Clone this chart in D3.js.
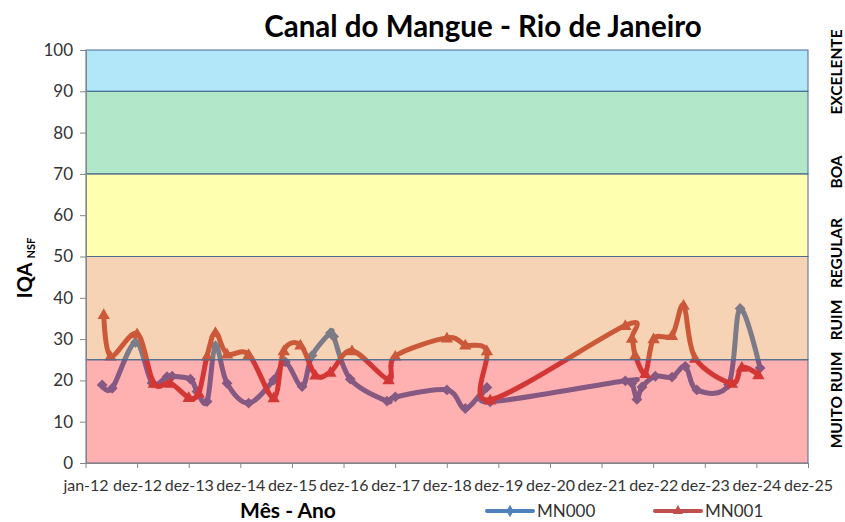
<!DOCTYPE html>
<html>
<head>
<meta charset="utf-8">
<script src="https://cdn.jsdelivr.net/npm/d3@7"></script>
<style>
  body { margin: 0; background: #fff; }
  svg { display: block; font-family: Lato, "Open Sans", sans-serif; }
</style>
</head>
<body>
<div id="chart"></div>
<script>

// series MN000 (sample dates + IQA values)
const mn000Dates = [
    "2012-04-28", "2012-07-08", "2012-12-19", "2013-04-16", "2013-07-31", "2013-09-05",
    "2014-01-12", "2014-02-28", "2014-05-10", "2014-07-08", "2014-09-28", "2015-02-28",
    "2015-08-24", "2015-11-15", "2016-03-12", "2016-05-21", "2016-09-28", "2016-10-21",
    "2017-02-16", "2017-11-02", "2017-12-31", "2018-12-31", "2019-05-10", "2019-10-10",
    "2019-11-02", "2022-06-15", "2022-08-01", "2022-09-05", "2022-10-11", "2023-01-13",
    "2023-05-11", "2023-08-13", "2023-11-03", "2024-06-14", "2024-09-04", "2025-01-23"
];
const mn000Values = [
    18.9, 18.1, 29.2, 19.4, 20.9, 21.0,
    20.3, 17.3, 14.9, 28.4, 19.3, 14.5,
    20.1, 24.5, 18.5, 26.0, 31.5, 30.6,
    20.3, 15.0, 16.0, 17.7, 13.2, 18.3,
    14.8, 19.9, 19.3, 15.4, 18.4, 21.0,
    20.8, 23.4, 17.7, 19.0, 37.4, 23.0
];

// series MN001
const mn001Dates = [
    "2012-05-09", "2012-06-26", "2012-12-31", "2013-04-28", "2013-08-24", "2013-12-31",
    "2014-03-12", "2014-05-10", "2014-07-08", "2014-09-28", "2015-02-28", "2015-08-24",
    "2015-11-03", "2016-02-29", "2016-06-14", "2016-09-28", "2017-02-28", "2017-11-14",
    "2017-12-31", "2018-12-31", "2019-05-10", "2019-10-10", "2019-11-02", "2022-06-15",
    "2022-08-01", "2022-08-24", "2022-11-03", "2023-01-01", "2023-05-11", "2023-08-01",
    "2023-10-22", "2024-07-08", "2024-09-16", "2025-01-11"
];
const mn001Values = [
    36.0, 25.9, 31.3, 19.3, 19.3, 15.9,
    16.9, 25.9, 31.6, 26.4, 26.3, 15.8,
    27.2, 28.6, 21.3, 22.0, 27.2, 20.2,
    25.9, 30.3, 28.6, 27.2, 15.3, 33.3,
    30.2, 26.1, 21.7, 30.1, 30.9, 38.2,
    25.4, 19.3, 23.2, 21.4
];

// quality classes (IQA NSF)
const bandNames = ["MUITO RUIM", "RUIM", "REGULAR", "BOA", "EXCELENTE"];
const bandLimits = [0, 25, 50, 70, 90, 100];

const xTickLabels = ["jan-12", "dez-12", "dez-13", "dez-14", "dez-15", "dez-16", "dez-17",
    "dez-18", "dez-19", "dez-20", "dez-21", "dez-22", "dez-23", "dez-24", "dez-25"];
const yTicks = [0, 10, 20, 30, 40, 50, 60, 70, 80, 90, 100];

const seriesNames = ["MN000", "MN001"];


function buildViz() {
    const W = 845, H = 522;
    const plot = { left: 86, right: 808, top: 50, bottom: 463 };

    const parse = d3.utcParse("%Y-%m-%d");
    const start = Date.UTC(2012, 0, 1);
    // excel date axis: major unit of 365 days starting at 1-jan-2012
    const tickDates = xTickLabels.map((_, i) => d3.utcDay.offset(new Date(start), i * 365));

    const svg = d3.select("#chart").append("svg")
        .attr("width", W)
        .attr("height", H);

    const x = d3.scaleUtc()
        .domain([tickDates[0], tickDates[tickDates.length - 1]])
        .range([plot.left - 0.5, plot.right]);

    const y = d3.scaleLinear()
        .domain([0, 100])
        .range([plot.bottom, plot.top]);

    const series = [
        { name: seriesNames[0], color: "#4f81bd", shape: "diamond",
          data: mn000Dates.map((d, i) => ({ date: parse(d), value: mn000Values[i] })) },
        { name: seriesNames[1], color: "#c0504d", shape: "triangle",
          data: mn001Dates.map((d, i) => ({ date: parse(d), value: mn001Values[i] })) }
    ];

    const diamond = d3.symbol().type(d3.symbolDiamond2 || d3.symbolDiamond).size(75);
    const triangle = d3.symbol().type(d3.symbolTriangle).size(66);

    // LINES (under the transparent bands, like the excel original)
    const line = d3.line()
        .x(d => x(d.date))
        .y(d => y(d.value))
        .curve(d3.curveCardinal.tension(0));

    const lines = svg.append("g");
    series.forEach(s => {
        lines.append("path")
            .datum(s.data)
            .attr("fill", "none")
            .attr("stroke", s.color)
            .attr("stroke-width", 5)
            .attr("stroke-linejoin", "round")
            .attr("d", line);

        lines.selectAll(null)
            .data(s.data)
            .enter()
            .append("path")
            .attr("transform", d => `translate(${x(d.date)},${y(d.value) + (s.shape === "triangle" ? 1 : 0)})`)
            .attr("d", s.shape === "diamond" ? diamond() : triangle())
            .attr("fill", s.color);
    });

    // BANDS
    const bandFill = [
        "rgba(255,0,0,0.31)",
        "rgba(228,108,10,0.30)",
        "rgba(255,255,0,0.31)",
        "rgba(0,176,80,0.30)",
        "rgba(0,176,240,0.30)"
    ];
    const bands = bandNames.map((name, i) => ({ name, lo: bandLimits[i], hi: bandLimits[i + 1] }));

    svg.append("g")
        .selectAll("rect")
        .data(bands)
        .enter()
        .append("rect")
        .attr("x", plot.left)
        .attr("width", plot.right - plot.left)
        .attr("y", d => y(d.hi))
        .attr("height", d => y(d.lo) - y(d.hi))
        .attr("fill", (d, i) => bandFill[i])
        .attr("stroke", "#4d6a92")
        .attr("stroke-width", 1);

    // AXES
    const yAxis = svg.append("g")
        .attr("transform", `translate(${plot.left},0)`)
        .call(d3.axisLeft(y).tickValues(yTicks).tickSize(6).tickPadding(7));
    yAxis.select(".domain").attr("stroke", "#868686");
    yAxis.selectAll(".tick line").attr("stroke", "#868686");
    yAxis.selectAll(".tick text")
        .attr("fill", "#333")
        .style("font-size", "17px")
        .style("font-family", "Lato, sans-serif");

    const xAxis = svg.append("g")
        .attr("transform", `translate(0,${plot.bottom})`)
        .call(d3.axisBottom(x)
            .tickValues(tickDates)
            .tickFormat((d, i) => xTickLabels[i])
            .tickSize(5)
            .tickSizeOuter(0)
            .tickPadding(12));
    xAxis.select(".domain").attr("stroke", "#868686");
    xAxis.selectAll(".tick line").attr("stroke", "#868686");
    xAxis.selectAll(".tick text")
        .attr("fill", "#333")
        .style("font-size", "16px")
        .style("font-family", "Lato, sans-serif");

    // TITLES
    svg.append("text")
        .attr("x", 483)
        .attr("y", 37)
        .attr("text-anchor", "middle")
        .style("font-size", "29.5px")
        .style("font-weight", "bold")
        .attr("fill", "#000")
        .text("Canal do Mangue - Rio de Janeiro");

    const yLabel = svg.append("text")
        .attr("transform", "translate(32,268) rotate(-90)")
        .attr("text-anchor", "middle")
        .style("font-weight", "bold")
        .attr("fill", "#000");
    yLabel.append("tspan").style("font-size", "20px").text("IQA ");
    yLabel.append("tspan").style("font-size", "11px").attr("dy", 3).text("NSF");

    svg.append("text")
        .attr("x", 288)
        .attr("y", 518)
        .attr("text-anchor", "middle")
        .style("font-size", "21px")
        .style("font-weight", "bold")
        .attr("fill", "#000")
        .text("Mês - Ano");

    // class names on the right side
    const classCenters = [400, 320, 253, 172, 72];
    svg.append("g")
        .selectAll("text")
        .data(bands)
        .enter()
        .append("text")
        .attr("transform", (d, i) => `translate(842,${classCenters[i]}) rotate(-90)`)
        .attr("text-anchor", "middle")
        .style("font-size", "15.5px")
        .style("font-weight", "bold")
        .attr("fill", "#000")
        .text(d => d.name);

    // LEGEND
    const legendX = [487, 655];
    const legend = svg.append("g");
    series.forEach((s, i) => {
        const g = legend.append("g").attr("transform", `translate(${legendX[i]},511)`);
        g.append("line")
            .attr("x1", 0).attr("x2", 46)
            .attr("stroke", s.color)
            .attr("stroke-width", 4)
            .attr("stroke-linecap", "round");
        g.append("path")
            .attr("transform", "translate(23,0)")
            .attr("d", s.shape === "diamond" ? d3.symbol().type(d3.symbolDiamond).size(45)() : d3.symbol().type(d3.symbolTriangle).size(45)())
            .attr("fill", s.color);
        g.append("text")
            .attr("x", 50)
            .attr("y", 6)
            .style("font-size", "17px")
            .attr("fill", "#333")
            .text(s.name);
    });
}

buildViz();
</script>
</body>
</html>
